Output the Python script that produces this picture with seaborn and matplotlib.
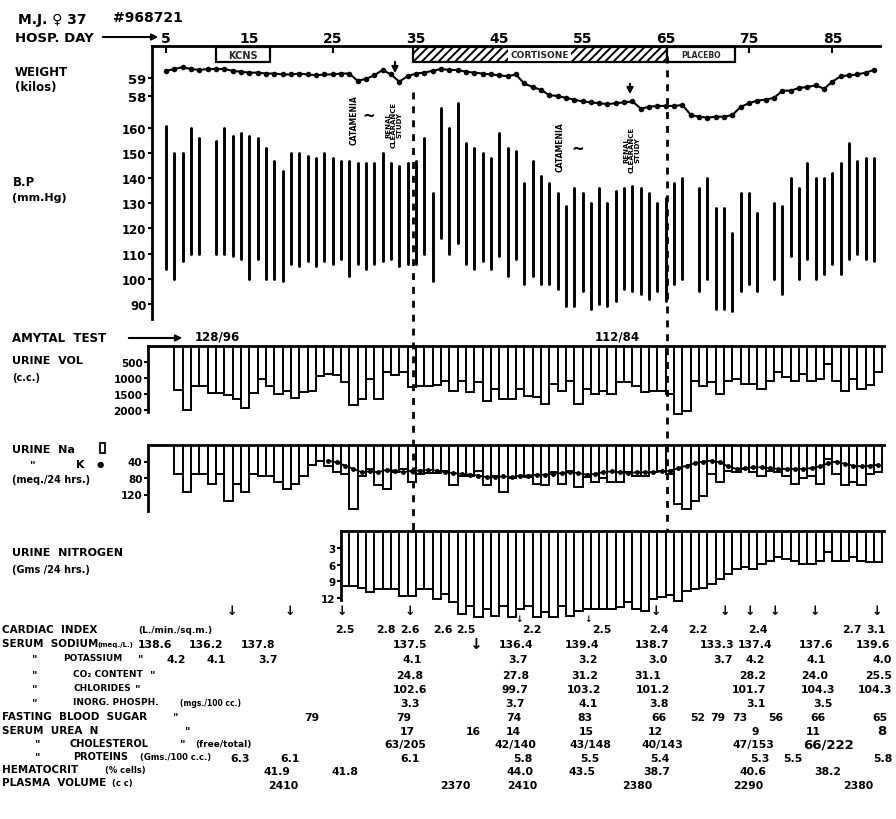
import numpy as np
import pandas as pd
import matplotlib
matplotlib.use("Agg")
import matplotlib.pyplot as plt
from matplotlib.patches import Rectangle
import seaborn as sns

# -----------------------------------------
# data (hospital days 5 - 90)
# -----------------------------------------
hosp_ticks = [5, 15, 25, 35, 45, 55, 65, 75, 85]

# treatment periods (start day, end day)
kcns_period = (11.0, 17.5)
cortisone_period = (34.6, 65.1)
placebo_period = (65.1, 73.3)

weight_days = list(range(5, 91))
weight_kg = [59.4, 59.5, 59.6, 59.5, 59.45, 59.5, 59.5, 59.5, 59.4, 59.35,
             59.3, 59.3, 59.25, 59.25, 59.2, 59.2, 59.25, 59.2, 59.15, 59.2,
             59.2, 59.25, 59.25, 58.85, 58.95, 59.15, 59.45, 59.2, 58.8, 59.1,
             59.25, 59.3, 59.4, 59.5, 59.45, 59.45, 59.35, 59.3, 59.25, 59.2,
             59.15, 59.1, 59.2, 58.7, 58.5, 58.35, 58.05, 58.0, 57.9, 57.8,
             57.7, 57.65, 57.6, 57.55, 57.6, 57.65, 57.7, 57.3, 57.4, 57.45,
             57.45, 57.45, 57.5, 56.95, 56.85, 56.8, 56.85, 56.85, 56.95, 57.4,
             57.6, 57.75, 57.8, 57.9, 58.3, 58.3, 58.45, 58.5, 58.6, 58.4,
             58.8, 59.1, 59.15, 59.2, 59.3, 59.45]

bp_days = list(range(5, 10)) + list(range(11, 68)) + list(range(69, 77)) + list(range(78, 91))
bp_sys = ([161, 150, 150, 160, 156]
          + [155, 160, 157, 158, 157, 156, 152, 147, 143, 150, 150, 149, 148, 150, 148,
             147, 147, 146, 146, 146, 150, 146, 145, 146, 147, 156, 134, 168, 160]
          + [170, 154, 152, 150, 148, 158, 152, 151, 138, 147, 141, 138, 134, 129, 136,
             134, 130, 136, 130, 135, 136, 137, 136, 134, 130, 132, 138, 140]
          + [136, 140, 128, 128, 118, 134, 134, 126]
          + [130, 129, 140, 136, 146, 140, 140, 142, 146, 154, 147, 148, 148])
bp_dia = ([104, 100, 107, 110, 110]
          + [110, 110, 109, 108, 100, 108, 100, 100, 99, 106, 105, 107, 105, 107, 106,
             108, 101, 106, 104, 106, 107, 108, 105, 106, 106, 110, 99, 116, 110]
          + [114, 106, 104, 107, 104, 109, 101, 108, 98, 101, 98, 98, 96, 89, 89,
             95, 88, 90, 89, 91, 96, 95, 94, 92, 95, 91, 98, 100]
          + [95, 100, 88, 88, 87, 95, 98, 95]
          + [100, 94, 109, 100, 108, 100, 102, 106, 102, 108, 110, 108, 107])

bar_days = list(range(6, 91))
urine_vol = [1370, 1980, 1230, 1250, 1460, 1460, 1520, 1650, 1940, 1460, 1030, 1230, 1490,
             1390, 1600, 1440, 1390, 920, 870, 900, 1130, 1830, 1650, 1030, 1650, 820, 900,
             820, 1270, 1230, 1230, 1200, 1080,
             1390, 1080, 1440, 1130, 1700, 1340, 1650, 1650, 1340, 1540, 1590, 1800, 1180,
             1390, 1080, 1800, 1340, 1490, 1390, 1490, 1130, 1130, 1230, 1440, 1390, 1390,
             1490, 2110, 2010, 1080, 1230, 1130, 1490, 1080, 1030, 1180, 1180, 1340, 1080,
             820, 970, 1080, 870, 1080, 1030, 560, 1080, 1390, 1030, 1340, 1200, 820]
urine_na = [70, 115, 70, 70, 95, 70, 135, 95, 114, 70, 74, 74, 90, 106, 95, 74, 48, 38,
            50, 65, 70, 155, 74, 58, 98, 106, 65, 59, 90, 70, 68, 68, 62,
            98, 74, 74, 62, 98, 74, 115, 81, 74, 78, 94, 98, 66, 94, 62, 102, 78, 90,
            81, 90, 90, 66, 74, 74, 66, 62, 70, 143, 155, 135, 123, 70, 90, 62, 66, 58,
            66, 74, 62, 66, 74, 94, 81, 74, 94, 34, 70, 98, 90, 98, 70, 66]
k_days = list(range(24, 91))
urine_k = [38, 42, 50, 58, 66, 64, 66, 60, 62, 66, 62, 62, 60, 62, 66,
           68, 70, 72, 74, 78, 78, 76, 78, 74, 74, 72, 72, 70, 68, 66, 68, 72, 70, 66, 64,
           66, 68, 66, 66, 66, 64, 62, 56, 50, 44, 40, 38, 42, 52, 58, 56, 54, 54, 56, 58,
           58, 58, 58, 56, 52, 44, 40, 46, 50, 52, 50, 48]
n_days = list(range(26, 91))
urine_n = [9.8, 9.8, 10.1, 10.9, 10.4, 10.4, 10.4, 11.6, 11.6, 10.4, 10.4, 12.1, 11.3,
           12.7, 14.8, 13.3, 15.4, 13.9, 15.1, 13.3, 15.4, 13.9, 13.3, 15.4, 14.5, 15.4,
           13.3, 15.1, 14.2, 13.9, 13.9, 13.9, 13.9, 13.6, 12.7, 13.9, 14.2, 12.1, 11.8,
           11.5, 12.4, 10.7, 10.4, 10.1, 9.5, 8.6, 7.7, 6.8, 6.5, 6.8, 5.9, 5.3, 4.7,
           5.0, 5.3, 5.9, 5.9, 5.3, 3.8, 5.3, 5.3, 4.7, 5.3, 5.6, 5.6]

# laboratory table: values per row
cardiac_vals = ["2.5", "2.8", "2.6", "2.6", "2.5", "2.2", "2.5", "2.4", "2.2", "2.4", "2.7", "3.1"]
sodium_vals = ["138.6", "136.2", "137.8", "137.5", "136.4", "139.4", "138.7", "133.3", "137.4", "137.6", "139.6"]
potassium_vals = ["4.2", "4.1", "3.7", "4.1", "3.7", "3.2", "3.0", "3.7", "4.2", "4.1", "4.0"]
co2_vals = ["24.8", "27.8", "31.2", "31.1", "28.2", "24.0", "25.5"]
chloride_vals = ["102.6", "99.7", "103.2", "101.2", "101.7", "104.3", "104.3"]
phosph_vals = ["3.3", "3.7", "4.1", "3.8", "3.1", "3.5"]
sugar_vals = ["79", "79", "74", "83", "66", "52", "79", "73", "56", "66", "65"]
urea_vals = ["17", "16", "14", "15", "12", "9", "11", "8"]
chol_vals = ["63/205", "42/140", "43/148", "40/143", "47/153", "66/222"]
protein_vals = ["6.3", "6.1", "6.1", "5.8", "5.5", "5.4", "5.3", "5.5", "5.8"]
hemat_vals = ["41.9", "41.8", "44.0", "43.5", "38.7", "40.6", "38.2"]
plasma_vals = ["2410", "2370", "2410", "2380", "2290", "2380"]

# -----------------------------------------
# layout (pixels)
# -----------------------------------------
cardiac_x = [345, 386, 410, 443, 466, 532, 602, 659, 698, 758, 852, 876]
sodium_x = [155, 206, 258, 410, 516, 582, 652, 717, 755, 816, 873]
potassium_x = [176, 216, 268, 412, 518, 588, 658, 723, 755, 816, 882]
co2_x = [410, 516, 585, 648, 753, 815, 879]
chloride_x = [410, 515, 584, 653, 749, 818, 875]
phosph_x = [410, 515, 588, 659, 756, 823]
sugar_x = [312, 404, 514, 585, 659, 698, 718, 740, 776, 818, 880]
urea_x = [407, 473, 513, 586, 655, 755, 813, 882]
chol_x = [405, 515, 590, 662, 753, 829]
protein_x = [240, 290, 410, 523, 590, 660, 760, 793, 883]
hemat_x = [277, 345, 520, 582, 657, 753, 828]
plasma_x = [283, 455, 522, 637, 748, 858]

sns.set_theme(style="white")
plt.rcParams["font.family"] = ["DejaVu Sans"]
plt.rcParams["font.weight"] = "bold"
plt.rcParams["hatch.linewidth"] = 1.4
plt.rcParams["hatch.color"] = "black"

W, H = 896, 820
X5, PX = 166.0, 8.33   # pixel of day 5, pixels per day


def day_at(px):
    return 5 + (px - X5) / PX


def px_at(day):
    return X5 + (day - 5) * PX


fig = plt.figure(figsize=(W / 100, H / 100), dpi=100)


def panel(left, top, right, bottom, ylim):
    ax = fig.add_axes([left / W, 1 - bottom / H, (right - left) / W, (bottom - top) / H])
    ax.patch.set_alpha(0)
    for s in ax.spines.values():
        s.set_visible(False)
        s.set_color("black")
        s.set_linewidth(2)
    ax.set_xlim(day_at(left), day_at(right))
    ax.set_ylim(*ylim)
    return ax


def finish(ax, left, right, ylim, yticks, size):
    ax.set_xlim(day_at(left), day_at(right))
    ax.set_ylim(*ylim)
    ax.set_xlabel("")
    ax.set_ylabel("")
    ax.set_xticks([])
    ax.set_yticks(yticks)
    ax.tick_params(axis="y", left=True, direction="out", length=3, width=1.5,
                   pad=1, labelsize=size, colors="black")


# ---- weight + blood pressure ----
bp_ylim = (83.9, 192.7)
ax_bp = panel(152, 47, 880, 320, bp_ylim)
bp_long = pd.DataFrame({"day": bp_days + bp_days, "mmHg": bp_dia + bp_sys})
sns.lineplot(data=bp_long, x="day", y="mmHg", units="day", estimator=None,
             color="black", linewidth=2.1, ax=ax_bp, legend=False)
finish(ax_bp, 152, 880, bp_ylim, list(range(90, 170, 10)), 8.5)
ax_bp.spines["left"].set_visible(True)
ax_bp.spines["top"].set_visible(True)
ax_bp.xaxis.set_ticks_position("top")
ax_bp.set_xticks(hosp_ticks)
ax_bp.set_xticklabels([str(d) for d in hosp_ticks])
ax_bp.tick_params(axis="x", top=True, bottom=False, direction="in", length=5,
                  width=1.5, labelsize=10, pad=1, colors="black")

w_ylim = (45.61, 60.78)
ax_w = panel(152, 47, 880, 320, w_ylim)
sns.lineplot(x=weight_days, y=weight_kg, marker="o", markersize=4, markeredgewidth=0,
             color="black", linewidth=1.5, ax=ax_w)
finish(ax_w, 152, 880, w_ylim, [58, 59], 9.5)

# treatment boxes under the day axis
box_lo, box_hi = 59.89, 60.72
for (a, b), label, hatch, size in [(kcns_period, "KCNS", None, 7),
                                   (cortisone_period, "CORTISONE", "////", 6.5),
                                   (placebo_period, "PLACEBO", None, 5.5)]:
    ax_w.add_patch(Rectangle((a, box_lo), b - a, box_hi - box_lo, facecolor="white",
                             edgecolor="black", lw=1.6, hatch=hatch, clip_on=False, zorder=3))
    bbox = dict(facecolor="white", edgecolor="none", pad=1.5) if hatch else None
    ax_w.text((a + b) / 2, (box_lo + box_hi) / 2, label, ha="center", va="center",
              fontsize=size, bbox=bbox, zorder=4)

# ---- urine volume ----
uv_ylim = (2143, 0)
ax_uv = panel(148, 347, 884, 416, uv_ylim)
sns.barplot(x=np.array(bar_days) + 0.5, y=urine_vol, native_scale=True, orient="x",
            width=1, color="white", saturation=1, edgecolor="black", linewidth=1.4,
            errorbar=None, ax=ax_uv)
finish(ax_uv, 148, 884, uv_ylim, [500, 1000, 1500, 2000], 7.5)
ax_uv.spines["top"].set_visible(True)
ax_uv.spines["left"].set_visible(True)
ax_uv.spines["left"].set_bounds(0, 2060)

# ---- urine Na / K ----
na_ylim = (160, 0)
ax_na = panel(148, 446, 884, 512, na_ylim)
sns.barplot(x=np.array(bar_days) + 0.5, y=urine_na, native_scale=True, orient="x",
            width=1, color="white", saturation=1, edgecolor="black", linewidth=1.4,
            errorbar=None, ax=ax_na)
sns.lineplot(x=np.array(k_days) + 0.5, y=urine_k, marker="o", markersize=3.5,
             markeredgewidth=0, color="black", linewidth=1.3, ax=ax_na)
finish(ax_na, 148, 884, na_ylim, [40, 80, 120], 7.5)
ax_na.spines["top"].set_visible(True)
ax_na.spines["left"].set_visible(True)

# ---- urine nitrogen ----
n_left = px_at(26)
n_ylim = (15.7, 0)
ax_n = panel(n_left, 532, 884, 620, n_ylim)
sns.barplot(x=np.array(n_days) + 0.5, y=urine_n, native_scale=True, orient="x",
            width=1, color="white", saturation=1, edgecolor="black", linewidth=1.4,
            errorbar=None, ax=ax_n)
finish(ax_n, n_left, 884, n_ylim, [3, 6, 9, 12], 7.5)
ax_n.spines["top"].set_visible(True)
ax_n.spines["left"].set_visible(True)
ax_n.spines["left"].set_bounds(0, 12.3)

# -----------------------------------------
# overlay: labels, annotations, table
# -----------------------------------------
ov = fig.add_axes([0, 0, 1, 1])
ov.set_xlim(0, W)
ov.set_ylim(H, 0)
ov.axis("off")

arrow = dict(arrowstyle="-|>", lw=1.5, color="black", mutation_scale=9)


def txt(x, y, s, size=8, ha="left", **kw):
    ov.text(x, y, s, fontsize=size, ha=ha, va="center", color="black", **kw)


txt(18, 20, "M.J. ♀ 37", 10)
txt(113, 18, "#968721", 10)
txt(15, 38, "HOSP. DAY", 9.5)
ov.annotate("", xy=(161, 38), xytext=(100, 38), arrowprops=arrow)

txt(15, 72, "WEIGHT", 8.5)
txt(15, 87, "(kilos)", 8.5)
txt(13, 182, "B.P", 8.5)
txt(12, 198, "(mm.Hg)", 8)

# annotations in the top panel
ov.annotate("", xy=(395, 77), xytext=(395, 60), arrowprops=arrow)
ov.annotate("", xy=(630, 98), xytext=(630, 82), arrowprops=arrow)
txt(354, 120, "CATAMENIA", 5.5, ha="center", rotation=90)
txt(369, 116, "~", 11, ha="center")
txt(394, 125, "RENAL\nCLEARANCE\nSTUDY", 5, ha="center", rotation=90, linespacing=0.95)
txt(560, 147, "CATAMENIA", 5.5, ha="center", rotation=90)
txt(578, 149, "~", 11, ha="center")
txt(632, 150, "RENAL\nCLEARANCE\nSTUDY", 5, ha="center", rotation=90, linespacing=0.95)

# treatment boundaries
for day, y0 in [(cortisone_period[0], 93), (cortisone_period[1], 57)]:
    ov.plot([px_at(day), px_at(day)], [y0, 532], color="black", lw=2,
            ls=(0, (2.5, 2.5)))

txt(12, 339, "AMYTAL  TEST", 8.5)
ov.annotate("", xy=(185, 339), xytext=(126, 339), arrowprops=arrow)
txt(195, 337, "128/96", 8.5)
txt(617, 337, "112/84", 8.5, ha="center")

txt(12, 361, "URINE  VOL", 8)
txt(12, 378, "(c.c.)", 7)
txt(12, 450, "URINE  Na", 8)
ov.add_patch(Rectangle((100, 444), 5, 10, facecolor="white", edgecolor="black", lw=1.3))
txt(30, 465, '"', 8)
txt(76, 465, "K", 8)
txt(97, 465, "●", 6)
txt(12, 480, "(meq./24 hrs.)", 7)
txt(12, 553, "URINE  NITROGEN", 8)
txt(12, 570, "(Gms /24 hrs.)", 7)

# row labels of the laboratory table: (x, y, text, size)
row_labels = [
    (2, 630, "CARDIAC  INDEX", 7.5), (138, 631, "(L./min./sq.m.)", 6.5),
    (2, 644, "SERUM  SODIUM", 7.5), (97, 645, "(meq./L.)", 5),
    (32, 659, '"', 7.5), (63, 659, "POTASSIUM", 6.5), (138, 659, '"', 7.5),
    (32, 675, '"', 7.5), (73, 675, "CO₂ CONTENT", 6.5), (150, 675, '"', 7.5),
    (32, 689, '"', 7.5), (73, 689, "CHLORIDES", 6.5), (135, 689, '"', 7.5),
    (32, 703, '"', 7.5), (73, 703, "INORG. PHOSPH.", 6.5), (180, 704, "(mgs./100 cc.)", 5.5),
    (2, 717, "FASTING  BLOOD  SUGAR", 7.5), (173, 717, '"', 7.5),
    (2, 731, "SERUM  UREA  N", 7.5), (185, 731, '"', 7.5),
    (35, 744, '"', 7.5), (70, 744, "CHOLESTEROL", 7), (180, 744, '"', 7.5),
    (195, 745, "(free/total)", 6.5),
    (35, 757, '"', 7.5), (73, 757, "PROTEINS", 7), (140, 758, "(Gms./100 c.c.)", 6),
    (2, 770, "HEMATOCRIT", 7.5), (105, 771, "(% cells)", 6),
    (2, 783, "PLASMA  VOLUME", 7.5), (112, 784, "(c c)", 6),
]
for x, y, s, size in row_labels:
    txt(x, y, s, size)

table_rows = [(630, cardiac_vals, cardiac_x), (645, sodium_vals, sodium_x),
              (660, potassium_vals, potassium_x), (676, co2_vals, co2_x),
              (690, chloride_vals, chloride_x), (704, phosph_vals, phosph_x),
              (718, sugar_vals, sugar_x), (732, urea_vals, urea_x),
              (745, chol_vals, chol_x), (759, protein_vals, protein_x),
              (772, hemat_vals, hemat_x), (786, plasma_vals, plasma_x)]
for y, vals, xs in table_rows:
    for x, v in zip(xs, vals):
        big = v in ("8", "66/222")
        txt(x, y, v, 9.5 if big else 7.8, ha="center")

# arrows marking cardiac index days
for x in [232, 290, 342, 410, 656, 725, 750, 775, 815, 877]:
    txt(x, 612, "↓", 9, ha="center")
txt(519, 620, "↓", 6.5, ha="center")
txt(588, 620, "↓", 6.5, ha="center")
txt(475, 645, "↓", 11, ha="center")

fig.savefig("out.png", dpi=100)
print("saved out.png")
